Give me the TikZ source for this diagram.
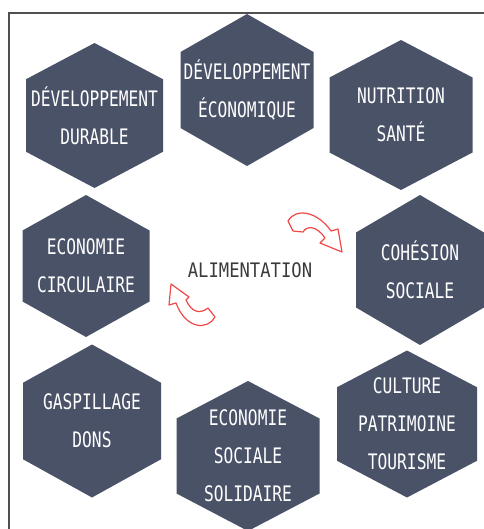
\documentclass[tikz,border=0pt]{standalone}
\usepackage{fontspec}
\newfontfamily\hexfont[FakeStretch=0.76]{DejaVu Sans Mono}
\newfontfamily\midfont[FakeStretch=0.86]{DejaVu Sans Mono}
\definecolor{hexblue}{RGB}{74,82,104}
\definecolor{framegray}{RGB}{80,80,80}
\definecolor{swirlred}{RGB}{240,72,72}
\definecolor{midgray}{RGB}{58,58,58}
\tikzset{
  hexfill/.style={fill=hexblue},
  hextext/.style={text=white, align=center, inner sep=0pt, font=\hexfont\fontsize{16}{28.5}\selectfont},
  swirl/.style={draw=swirlred, fill=white, line width=0.9pt, line join=round},
}
% name, center x, center y, width, height, text
\newcommand{\hexcell}[6]{ \fill[hexfill] ( #2 , #3 - #5 * 0.5 ) -- ( #2 + #4 * 0.5 , #3 - #5 * 0.25 ) -- ( #2 + #4 * 0.5 , #3 + #5 * 0.25 ) -- ( #2 , #3 + #5 * 0.5 ) -- ( #2 - #4 * 0.5 , #3 + #5 * 0.25 ) -- ( #2 - #4 * 0.5 , #3 - #5 * 0.25 ) -- cycle; \node[hextext] (#1) at ( #2 , #3 ) {#6};}

\begin{document}
\begin{tikzpicture}[x=0.75pt, y=-0.75pt]
        \useasboundingbox (0,0) rectangle (484,529);
        % frame
        \draw[framegray, line width=1.1pt] (9,529) -- (9,13) -- (484,13);
        % top row
        \hexcell{durable}{94.5}{115.5}{137}{145}{DÉVELOPPEMENT\\DURABLE}
        \hexcell{economique}{247}{90}{133}{152}{DÉVELOPPEMENT\\ÉCONOMIQUE}
        \hexcell{sante}{401}{115}{143}{150}{NUTRITION\\SANTÉ}
        % middle row
        \hexcell{circulaire}{86}{266}{127}{142}{ECONOMIE\\CIRCULAIRE}
        \hexcell{cohesion}{420}{270}{128}{150}{COHÉSION\\SOCIALE}
        % bottom row
        \hexcell{gaspillage}{92}{421}{138}{153}{GASPILLAGE\\DONS}
        \hexcell{solidaire}{248}{456}{143}{150}{ECONOMIE\\SOCIALE\\SOLIDAIRE}
        \hexcell{culture}{407}{424}{140}{147}{CULTURE\\PATRIMOINE\\TOURISME}
        % centre
        \node[text=midgray, inner sep=0pt, font=\midfont\fontsize{15}{18}\selectfont] (alim) at (250,270) {ALIMENTATION};
        % arrows
        \draw[swirl] (288,221) .. controls (296,207) and (318,212) .. (331,231) -- (338,229) -- (342,252) -- (320,243) -- (325,238) .. controls (317,226) and (307,225) .. (303,232) -- (293,231) -- cycle;
        \draw[swirl] (171,284) -- (189,297) -- (186,300) .. controls (192,313) and (200,314) .. (208,308) -- (215,317) .. controls (208,330) and (186,330) .. (176,303) -- (169,305) -- cycle;
\end{tikzpicture}
\end{document}
